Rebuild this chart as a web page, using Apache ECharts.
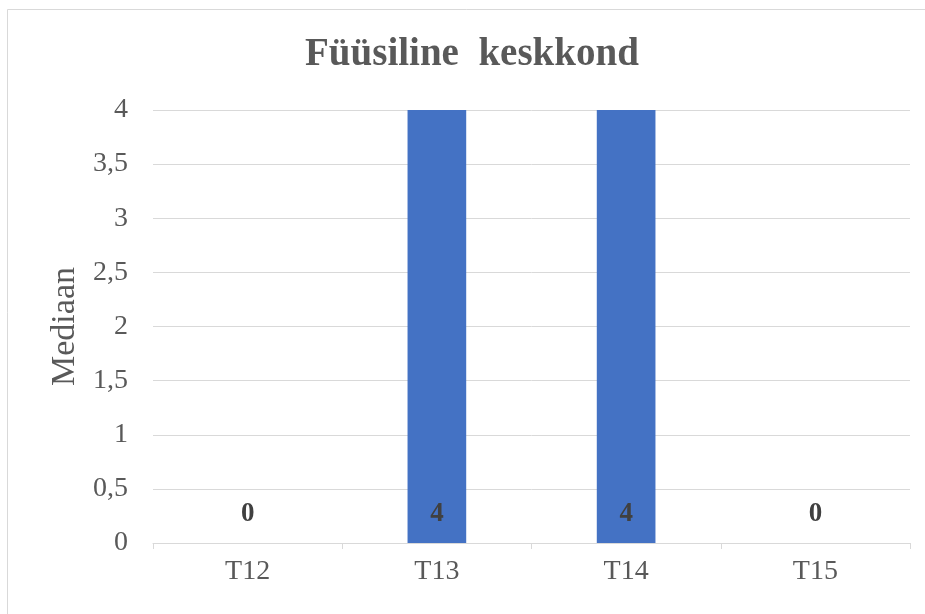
<!DOCTYPE html>
<html>
<head>
<meta charset="utf-8">
<script src="https://cdn.jsdelivr.net/npm/echarts@6/dist/echarts.min.js"></script>
<style>
html,body{margin:0;padding:0;background:#fff;}
#c{width:925px;height:614px;}
</style>
</head>
<body>
<div id="c"></div>
<script>
var categories = ['T12', 'T13', 'T14', 'T15'];
var medianValues = [0, 4, 4, 0];
var titleText = 'Füüsiline  keskkond';
var yAxisName = 'Mediaan';

var serif = '"Liberation Serif", "DejaVu Serif", serif';
var chart = echarts.init(document.getElementById('c'));
chart.setOption({
  animation: false,
  backgroundColor: '#fff',
  graphic: [{
    type: 'rect', left: 5, top: 7, z: -1,
    shape: { width: 940, height: 640 },
    style: { fill: 'none', stroke: '#d9d9d9', lineWidth: 1 }
  }],
  title: {
    text: titleText, left: 305, top: 35, padding: 0,
    textStyle: { fontFamily: serif, fontWeight: 'bold', fontSize: 39, color: '#595959' }
  },
  grid: { left: 153, right: 15, top: 110, bottom: 71 },
  xAxis: {
    type: 'category', data: categories,
    axisLine: { lineStyle: { color: '#d9d9d9' } },
    axisTick: { show: true, length: 6, lineStyle: { color: '#d9d9d9' } },
    axisLabel: { fontFamily: serif, fontSize: 28, color: '#595959', margin: 15 }
  },
  yAxis: {
    type: 'value', min: 0, max: 4, interval: 0.5,
    name: yAxisName, nameLocation: 'middle', nameGap: 71, nameRotate: 90,
    nameTextStyle: { fontFamily: serif, fontSize: 34, color: '#595959' },
    axisLine: { show: false }, axisTick: { show: false },
    splitLine: { lineStyle: { color: '#d9d9d9' } },
    axisLabel: {
      fontFamily: serif, fontSize: 28, color: '#595959', margin: 25,
      formatter: function (v) { return String(v).replace('.', ','); }
    }
  },
  series: [{
    type: 'bar', data: medianValues, barWidth: '31%',
    itemStyle: { color: '#4472c4' },
    label: {
      show: true, position: 'insideBottom', distance: 15,
      fontFamily: serif, fontWeight: 'bold', fontSize: 27, color: '#404040'
    }
  }]
});
</script>
</body>
</html>
